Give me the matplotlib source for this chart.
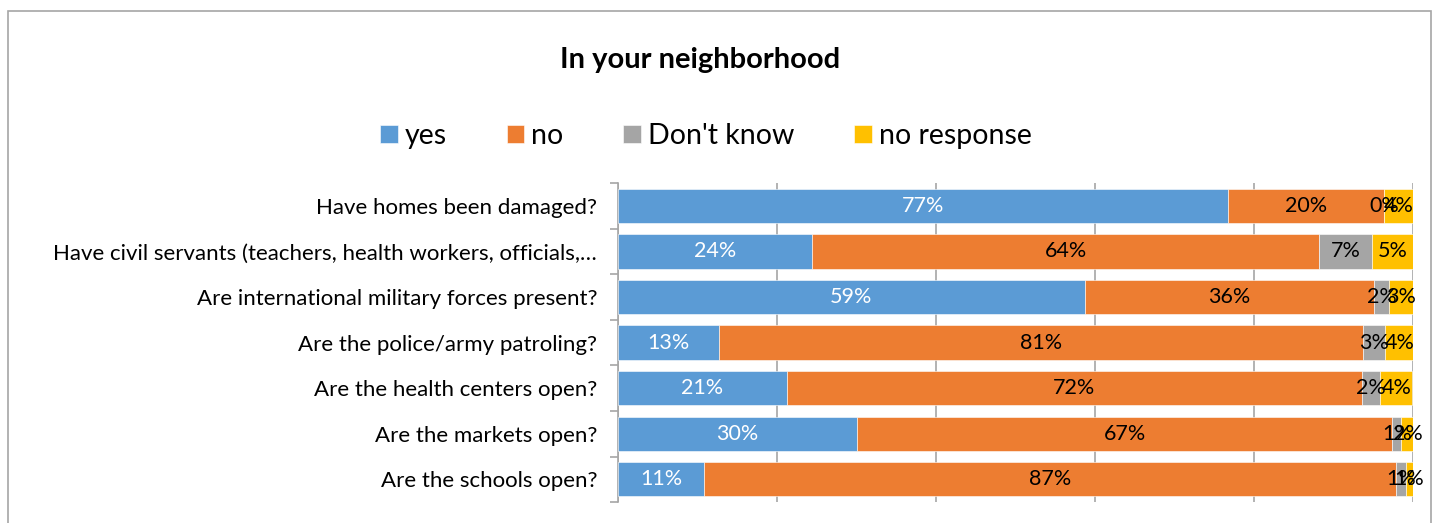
import matplotlib.pyplot as plt
from matplotlib.patches import Rectangle
import numpy as np

plt.rcParams['font.family'] = ['Lato', 'DejaVu Sans']

# data (top to bottom as in the chart)
questions = [
    'Have homes been damaged?',
    'Have civil servants (teachers, health workers, officials,…',
    'Are international military forces present?',
    'Are the police/army patroling?',
    'Are the health centers open?',
    'Are the markets open?',
    'Are the schools open?',
]
yes = [76.7, 24.4, 58.7, 12.7, 21.2, 30.1, 10.8]
no = [19.7, 63.8, 36.4, 81.0, 72.4, 67.3, 87.1]
dont_know = [0.0, 6.6, 1.9, 2.8, 2.3, 1.1, 1.2]
no_response = [3.6, 5.3, 3.0, 3.6, 4.0, 1.6, 0.9]

series = ['yes', 'no', "Don't know", 'no response']
colors = ['#5B9BD5', '#ED7D31', '#A5A5A5', '#FFC000']
text_colors = ['white', 'black', 'black', 'black']

fig = plt.figure(figsize=(14.35, 5.23), dpi=100)
ax = fig.add_axes([0.4307, 0.040, 0.554, 0.610])

# chart frame
fig.patches.append(Rectangle((8 / 1435, -0.1), (1431 - 8) / 1435, 1.1 - 11 / 523,
                             transform=fig.transFigure, fill=False,
                             edgecolor='#A6A6A6', linewidth=1.2))

y = np.arange(len(questions))
left = np.zeros(len(questions))
for vals, name, c, tc in zip([yes, no, dont_know, no_response], series, colors, text_colors):
    vals = np.array(vals)
    ax.barh(y, vals, left=left, height=0.75, color=c, label=name,
            edgecolor='white', linewidth=0.4, zorder=3)
    for yi, l, v in zip(y, left, vals):
        ax.text(l + v / 2, yi, '%d%%' % round(v), ha='center', va='center',
                color=tc, fontsize=15.5, zorder=4)
    left += vals

ax.set_xlim(0, 100)
ax.set_ylim(len(questions) - 0.5, -0.5)
ax.set_xticks([0, 20, 40, 60, 80, 100])
ax.xaxis.grid(True, color='#A6A6A6', linewidth=1.2, zorder=0)
ax.tick_params(axis='x', length=0, labelbottom=False)

ax.set_yticks(y)
ax.set_yticklabels(questions, fontsize=16)
ax.tick_params(axis='y', which='major', length=0, pad=15)
ax.set_yticks(np.arange(-0.5, len(questions)), minor=True)
ax.tick_params(axis='y', which='minor', length=6, color='#A6A6A6', width=1.2)

for s in ['top', 'right', 'bottom']:
    ax.spines[s].set_visible(False)
ax.spines['left'].set_color('#A6A6A6')
ax.spines['left'].set_linewidth(1.2)

fig.text(0.488, 0.885, 'In your neighborhood', ha='center', va='center',
         fontsize=21, fontweight='bold')

fig.legend(loc='center', bbox_to_anchor=(0.492, 0.740), ncol=4, frameon=False,
           fontsize=20.5, handlelength=0.62, handleheight=0.62, handletextpad=0.25,
           columnspacing=2.1)

fig.savefig('out.png', dpi=100)
